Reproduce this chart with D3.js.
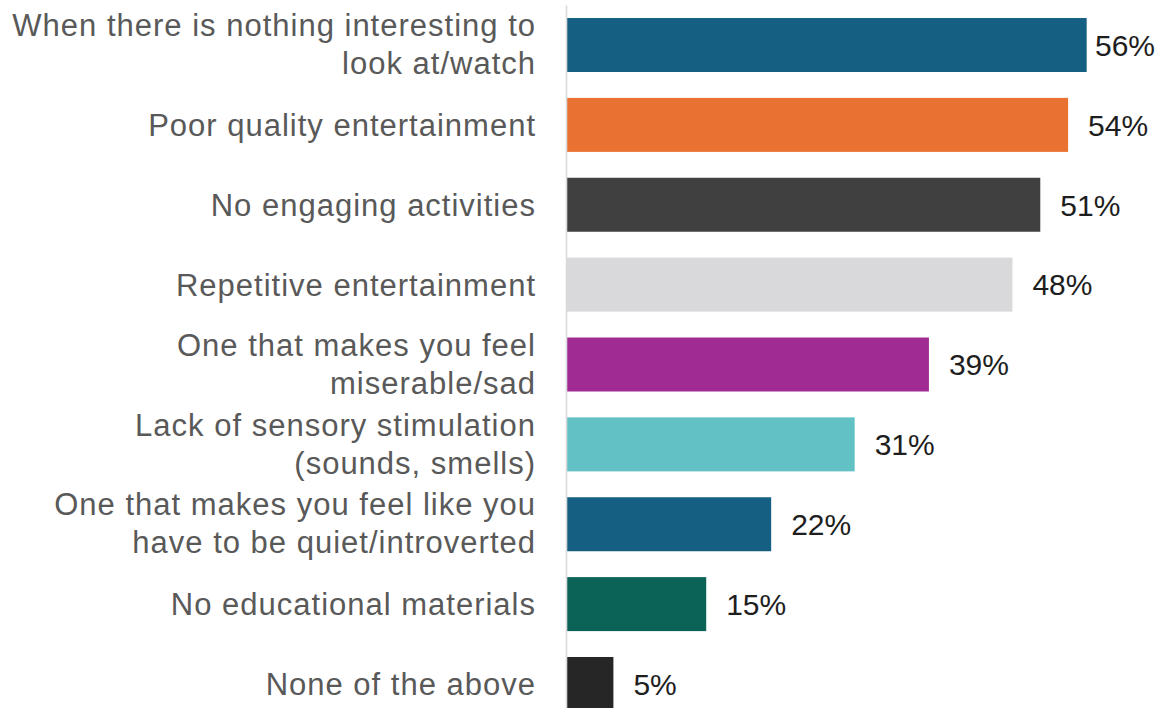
<!DOCTYPE html>
<html>
<head>
<meta charset="utf-8">
<script src="https://cdn.jsdelivr.net/npm/d3@7"></script>
<style>
  body { margin: 0; background: #fff; }
  svg { display: block; }
</style>
</head>
<body>
<div id="chart"></div>
<script>
// data
const CATEGORIES = [
  ["When there is nothing interesting to", "look at/watch"],
  ["Poor quality entertainment"],
  ["No engaging activities"],
  ["Repetitive entertainment"],
  ["One that makes you feel", "miserable/sad"],
  ["Lack of sensory stimulation", "(sounds, smells)"],
  ["One that makes you feel like you", "have to be quiet/introverted"],
  ["No educational materials"],
  ["None of the above"]
];
const VALUES = [56, 54, 51, 48, 39, 31, 22, 15, 5];
const BAR_COLORS = ["#156082", "#e97132", "#404040", "#d9d9db", "#a02b93",
                    "#61c1c4", "#156082", "#0b6358", "#262626"];

// frame
const FRAME_WIDTH = 1166;
const FRAME_HEIGHT = 708;
const AXIS_X = 567;

const FRAME = d3.select("#chart")
                .append("svg")
                  .attr("width", FRAME_WIDTH)
                  .attr("height", FRAME_HEIGHT);

// scales
const X_SCALE = d3.scaleLinear()
                  .domain([0, 60])
                  .range([AXIS_X, AXIS_X + 60 * 9.28]);

const Y_SCALE = d3.scaleBand()
                  .domain(d3.range(VALUES.length))
                  .range([5, 724])
                  .paddingInner(0.324)
                  .paddingOuter(0.163);

const DATA = VALUES.map((v, i) => ({label: CATEGORIES[i], value: v, color: BAR_COLORS[i]}));

// bars
FRAME.selectAll(".bar")
      .data(DATA)
      .enter()
      .append("rect")
        .attr("class", "bar")
        .attr("x", X_SCALE(0))
        .attr("y", (d, i) => Y_SCALE(i))
        .attr("width", (d) => X_SCALE(d.value) - X_SCALE(0))
        .attr("height", Y_SCALE.bandwidth())
        .attr("fill", (d) => d.color);

// vertical axis line (no ticks)
const yAxis = FRAME.append("g")
      .attr("transform", "translate(" + (AXIS_X - 1) + ",0)")
      .call(d3.axisLeft(Y_SCALE).tickSize(0).tickFormat(""));
yAxis.select(".domain")
      .attr("stroke", "#d9d9d9")
      .attr("stroke-width", 1.6);

// value labels (clamped at the right edge)
FRAME.selectAll(".val")
      .data(DATA)
      .enter()
      .append("text")
        .attr("class", "val")
        .attr("x", (d) => Math.min(X_SCALE(d.value) + 20, 1095))
        .attr("y", (d, i) => Y_SCALE(i) + Y_SCALE.bandwidth() / 2)
        .attr("dy", "0.36em")
        .attr("font-family", "Liberation Sans, Arial, sans-serif")
        .attr("font-size", "30px")
        .attr("fill", "#1e1e1e")
        .text((d) => d.value + "%");

// category labels
const LINE_GAP = 38;
const catLabels = FRAME.selectAll(".cat")
      .data(DATA)
      .enter()
      .append("text")
        .attr("class", "cat")
        .attr("text-anchor", "end")
        .attr("font-family", "Liberation Sans, Arial, sans-serif")
        .attr("font-size", "31px")
        .attr("letter-spacing", "1px")
        .attr("fill", "#595959");

catLabels.each(function(d, i) {
  const cy = Y_SCALE(i) + Y_SCALE.bandwidth() / 2;
  const n = d.label.length;
  d3.select(this).selectAll("tspan")
    .data(d.label)
    .enter()
    .append("tspan")
      .attr("x", 536)
      .attr("y", (t, j) => cy + (j - (n - 1) / 2) * LINE_GAP - (n > 1 ? 1 : 0))
      .attr("dy", "0.36em")
      .text((t) => t);
});
</script>
</body>
</html>
